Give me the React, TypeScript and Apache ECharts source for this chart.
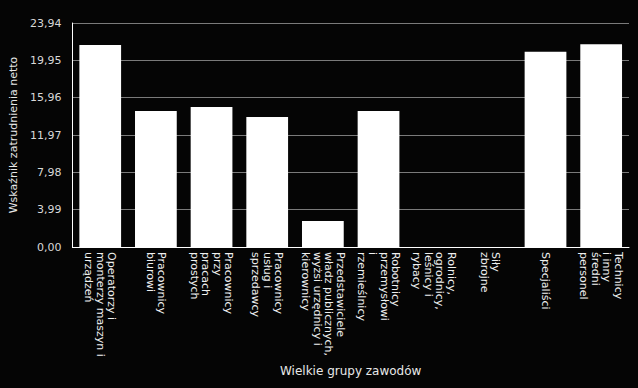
import React, { useEffect, useRef } from "react";
import * as echarts from "echarts";

const categories = [
  "Operatorzy i\nmonterzy maszyn i\nurządzeń",
  "Pracownicy\nbiurowi",
  "Pracownicy\nprzy\npracach\nprostych",
  "Pracownicy\nusług i\nsprzedawcy",
  "Przedstawiciele\nwładz publicznych,\nwyżsi urzędnicy i\nkierownicy",
  "Robotnicy\nprzemysłowi\ni\nrzemieślnicy",
  "Rolnicy,\nogrodnicy,\nleśnicy i\nrybacy",
  "Siły\nzbrojne",
  "Specjaliści",
  "Technicy\ni inny\nśredni\npersonel",
];
const values = [21.59, 14.53, 14.96, 13.9, 2.78, 14.53, 0, 0, 20.87, 21.66];
const yMax = 23.94;
const yStep = 3.99;
const yTitle = "Wskaźnik zatrudnienia netto";
const xTitle = "Wielkie grupy zawodów";

export default function App() {
  const ref = useRef<HTMLDivElement>(null);
  useEffect(() => {
    document.body.style.margin = "0";
    document.body.style.background = "#050505";
    const chart = echarts.init(ref.current!, null, { renderer: "svg" });
    chart.setOption({
      animation: false,
      backgroundColor: "#050505",
      textStyle: { fontFamily: "DejaVu Sans" },
      grid: { left: 68, right: 9, top: 23, bottom: 141, containLabel: false },
      xAxis: {
        type: "category",
        data: categories,
        name: xTitle,
        nameLocation: "middle",
        nameGap: 118,
        nameTextStyle: { color: "#e8e8e8", fontSize: 12, fontFamily: "DejaVu Sans" },
        axisLine: { lineStyle: { color: "#ffffff", width: 1 } },
        axisTick: { show: false },
        axisLabel: {
          interval: 0,
          rotate: -90,
          color: "#f0f0f0",
          fontSize: 11,
          lineHeight: 11.5,
          margin: 5,
          fontFamily: "DejaVu Sans",
        },
      },
      yAxis: {
        type: "value",
        min: 0,
        max: yMax,
        interval: yStep,
        name: yTitle,
        nameLocation: "middle",
        nameGap: 44,
        nameTextStyle: { color: "#e8e8e8", fontSize: 11, fontFamily: "DejaVu Sans" },
        axisLine: { show: true, lineStyle: { color: "#ffffff", width: 1 } },
        axisTick: { show: false },
        axisLabel: {
          color: "#d8d8d8",
          fontSize: 11,
          margin: 11,
          fontFamily: "DejaVu Sans",
          formatter: (v: number) => v.toFixed(2).replace(".", ","),
        },
        splitLine: { lineStyle: { color: "#7a7a7a", width: 1 } },
      },
      series: [
        {
          type: "bar",
          data: values,
          barCategoryGap: "25%",
          itemStyle: { color: "#ffffff" },
        },
      ],
    });
    return () => chart.dispose();
  }, []);
  return <div ref={ref} style={{ width: 638, height: 388 }} />;
}
